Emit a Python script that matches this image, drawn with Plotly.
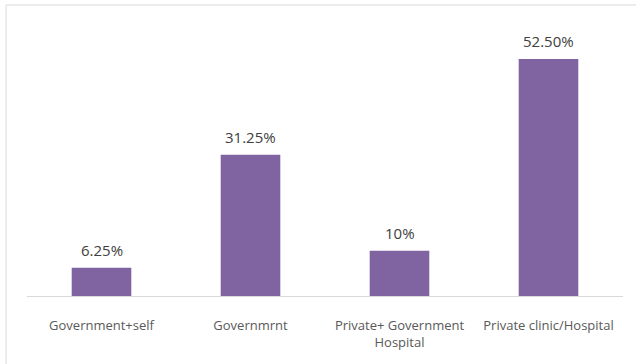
import plotly.graph_objects as go

categories = ["Government+self", "Governmrnt", "Private+ Government<br>Hospital", "Private clinic/Hospital"]
values = [6.25, 31.25, 10, 52.5]
labels = ["6.25%", "31.25%", "10%", "52.50%"]

fig = go.Figure(go.Bar(
    x=categories, y=values,
    marker=dict(color="#8064A2", line=dict(width=0)),
))
for c, v, t in zip(categories, values, labels):
    fig.add_annotation(x=c, y=v, text=t, showarrow=False, yanchor="bottom", yshift=6,
                       font=dict(family="Open Sans", size=15, color="#404040"))
fig.update_layout(
    width=636, height=364,
    margin=dict(l=27, r=13, t=25, b=68),
    paper_bgcolor="white", plot_bgcolor="white",
    bargap=0.6, showlegend=False,
    font=dict(family="Open Sans", size=13, color="#595959"),
    xaxis=dict(showline=True, linecolor="#d9d9d9", linewidth=1, ticks="", showgrid=False,
               ticklabelstandoff=17,
               tickfont=dict(family="Open Sans", size=13, color="#595959")),
    yaxis=dict(range=[0, 60], visible=False, showgrid=False),
    shapes=[dict(type="rect", xref="paper", yref="paper", x0=-0.0352, x1=1.05, y0=-0.3, y1=1.0738,
                 line=dict(color="#d9d9d9", width=1), fillcolor="rgba(0,0,0,0)", layer="below")],
)
fig.write_html("out.html")
